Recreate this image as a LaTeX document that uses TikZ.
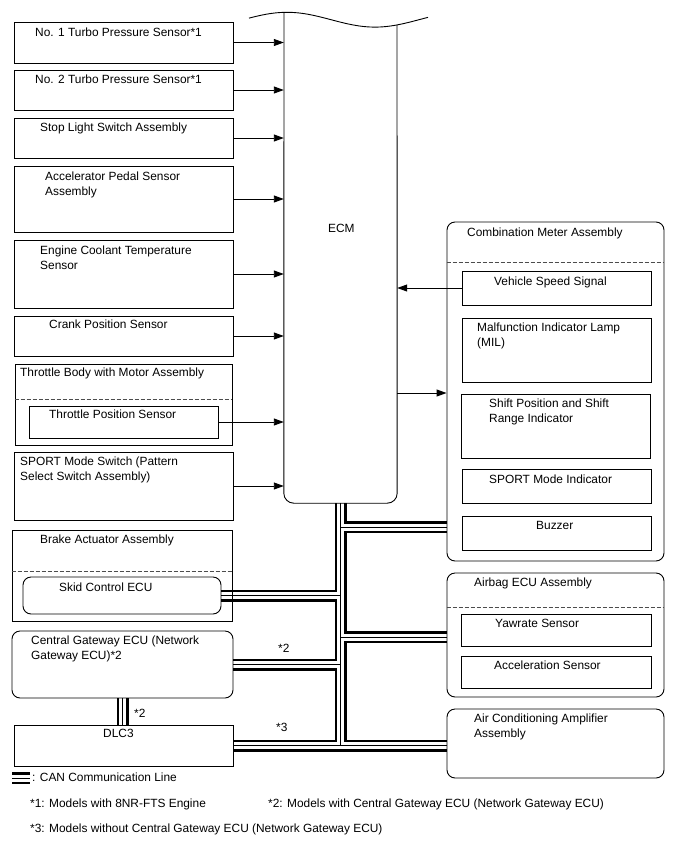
\documentclass[tikz,border=0pt]{standalone}
\usepackage{fontspec}
\setmainfont{Liberation Sans}
\usetikzlibrary{arrows.meta,fit,calc}
\pgfdeclarelayer{bg}
\pgfsetlayers{bg,main}
\begin{document}
\begin{tikzpicture}[x=1pt,y=-1pt,
  every node/.style={font=\fontsize{11.9}{14.5}\selectfont},
  box/.style={draw, line width=0.9pt, inner sep=0pt, fit={#1}},
  rbox/.style={box={#1}, rounded corners=8pt},
  area/.style={inner sep=0pt, fit={#1}},
  lbl/.style={anchor=north west, inner sep=0pt, align=left, yshift=-2pt},
  sig/.style={line width=0.9pt, -{Triangle[length=10pt,width=7pt]}},
  dsh/.style={line width=0.8pt, dash pattern=on 4pt off 2pt, draw=black!70},
  canblack/.style={line width=12pt, draw=black},
  canwhite/.style={line width=7pt, draw=white},
  canthin/.style={line width=0.9pt, draw=black}
]
\useasboundingbox (0,0) rectangle (688,852);

% ECM
\node[area={(284,12) (397,503)}] (ecm) {};
\draw[line width=0.9pt, rounded corners=10pt] (284,12.3) -- (ecm.south west) -- (ecm.south east) -- (397,24.9);
\draw[line width=0.9pt] plot[domain=249:428, samples=80, smooth] (\x, {19.7-7.4*cos(2.045*(\x-287))});
\node[lbl] (ecmt) at (328,222) {ECM};

% left inputs
\node[box={(14,22) (233,63)}] (s1) {};
\node[lbl] (s1t) at (35,26) {No. 1 Turbo Pressure Sensor*1};
\node[box={(14,70) (233,110)}] (s2) {};
\node[lbl] (s2t) at (35,73) {No. 2 Turbo Pressure Sensor*1};
\node[box={(14,118) (233,158)}] (s3) {};
\node[lbl] (s3t) at (40,121) {Stop Light Switch Assembly};
\node[box={(14,166) (233,232)}] (s4) {};
\node[lbl] (s4t) at (45,170) {Accelerator Pedal Sensor\\Assembly};
\node[box={(14,240) (233,308)}] (s5) {};
\node[lbl] (s5t) at (40,244) {Engine Coolant Temperature\\Sensor};
\node[box={(14,316) (233,356)}] (s6) {};
\node[lbl] (s6t) at (49,318) {Crank Position Sensor};
\node[box={(15,364) (232,445)}] (tb) {};
\node[lbl] (tbt) at (20,366) {Throttle Body with Motor Assembly};
\draw[dsh] (tb.west |- 0,399) -- (tb.east |- 0,399);
\node[box={(29,406) (218,438)}] (tps) {};
\node[lbl] (tpst) at (49,408) {Throttle Position Sensor};
\node[box={(14,452) (233,520)}] (sp) {};
\node[lbl] (spt) at (20,455) {SPORT Mode Switch (Pattern\\Select Switch Assembly)};

\foreach \n in {s1,s2,s3,s4,s5,s6,tps,sp}
  \draw[sig] (\n.east) -- (\n.east -| ecm.west);

% brake actuator
\node[box={(12,530) (232,621)}] (brk) {};
\node[lbl] (brkt) at (40,533) {Brake Actuator Assembly};
\draw[dsh] (brk.west |- 0,571) -- (brk.east |- 0,571);
\node[rbox={(23,577) (221,614)}] (skid) {};
\node[lbl] (skidt) at (59,581) {Skid Control ECU};

% gateway, DLC3
\node[rbox={(12,631) (233,698)}] (gw) {};
\node[lbl] (gwt) at (31,634) {Central Gateway ECU (Network\\Gateway ECU)*2};
\node[box={(14,725) (233,766)}] (dlc) {};
\node[lbl] (dlct) at (103,727) {DLC3};

% combination meter
\node[rbox={(447,222) (664,561)}] (cm) {};
\node[lbl] (cmt) at (467,226) {Combination Meter Assembly};
\draw[dsh] (cm.west |- 0,262) -- (cm.east |- 0,262);
\node[box={(462,271) (651,305)}] (vss) {};
\node[lbl] (vsst) at (494,275) {Vehicle Speed Signal};
\node[box={(462,318) (651,382)}] (mil) {};
\node[lbl] (milt) at (477,321) {Malfunction Indicator Lamp\\(MIL)};
\node[box={(461,394) (650,458)}] (sft) {};
\node[lbl] (sftt) at (489,397) {Shift Position and Shift\\Range Indicator};
\node[box={(462,469) (651,503)}] (spi) {};
\node[lbl] (spit) at (489,473) {SPORT Mode Indicator};
\node[box={(462,516) (651,550)}] (bz) {};
\node[lbl] (bzt) at (536,519) {Buzzer};

\draw[sig] (vss.west) -- (vss.west -| ecm.east);
\coordinate (ecmout) at (ecm.east |- 0,393);
\draw[sig] (ecmout) -- (ecmout -| cm.west);

% airbag
\node[rbox={(447,573) (664,697)}] (ab) {};
\node[lbl] (abt) at (474,576) {Airbag ECU Assembly};
\draw[dsh] (ab.west |- 0,607) -- (ab.east |- 0,607);
\node[box={(461,614) (651,646)}] (yaw) {};
\node[lbl] (yawt) at (495,617) {Yawrate Sensor};
\node[box={(461,656) (651,688)}] (acc) {};
\node[lbl] (acct) at (494,659) {Acceleration Sensor};

% air conditioning
\node[rbox={(447,709) (664,778)}] (ac) {};
\node[lbl] (act) at (474,712) {Air Conditioning Amplifier\\Assembly};

% CAN lines
\coordinate (j1) at (ecm.south |- 0,527);
\coordinate (j3) at (ecm.south |- 0,637);
\coordinate (lg1) at (12,778);
\coordinate (lg2) at (30,778);
\begin{pgfonlayer}{bg}
\foreach \st in {canblack,canwhite,canthin}{
  \draw[\st] (ecm.south) -- (ecm.south |- dlc.east)
    (dlc.east) -- (dlc.east -| ac.west)
    (j1) -- (j1 -| cm.west)
    (skid.east) -- (skid.east -| ecm.south)
    (j3) -- (j3 -| ab.west)
    (gw.east) -- (gw.east -| ecm.south)
    (gw.south) -- (gw.south |- dlc.north)
    (lg1) -- (lg2);
}
\end{pgfonlayer}

\node[lbl] (n2a) at (278,642) {*2};
\node[lbl] (n2b) at (134,707) {*2};
\node[lbl] (n3) at (276,721) {*3};

% legend
\node[lbl] (lgt) at (32,771) {: CAN Communication Line};
\node[lbl] (f1) at (30,797) {*1: Models with 8NR-FTS Engine};
\node[lbl] (f2) at (268,797) {*2: Models with Central Gateway ECU (Network Gateway ECU)};
\node[lbl] (f3) at (30,822) {*3: Models without Central Gateway ECU (Network Gateway ECU)};
\end{tikzpicture}
\end{document}
